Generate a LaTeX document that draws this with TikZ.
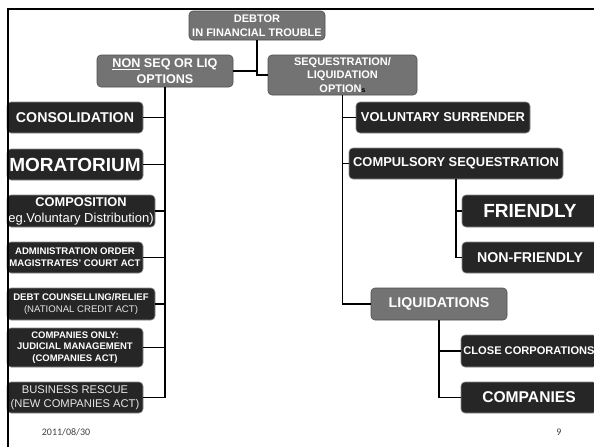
\documentclass[tikz,border=0pt]{standalone}
\usepackage{fontspec}
\setmainfont{Liberation Sans}
\newfontfamily\footfont{Carlito}
\usetikzlibrary{calc}

\definecolor{boxdark}{HTML}{262626}
\definecolor{boxgray}{HTML}{737373}
\definecolor{edgelight}{HTML}{8A8A8A}
\definecolor{edgedark}{HTML}{505050}
\definecolor{softwhite}{HTML}{E6E6E6}
\newcommand{\fsz}[2]{\fontsize{#1}{#2}\selectfont}

\begin{document}
\begin{tikzpicture}[x=1pt,y=-1pt]
  \tikzset{
    dbox/.style={draw=edgelight, fill=boxdark, rounded corners=4pt, text=white, align=center, inner sep=0pt, line width=0.6pt},
    gbox/.style={draw=edgedark, fill=boxgray, rounded corners=4pt, text=white, align=center, inner sep=0pt, line width=0.6pt},
    line/.style={draw, line width=1.8pt},
  }
  \clip (0,0) rectangle (594,447);
  \fill[white] (0,0) rectangle (594,447);

  % top of the tree
  \node [gbox, minimum width=136pt, minimum height=29pt, font=\bfseries\fsz{11}{13.5}] (debtor) at (257,25.5) {DEBTOR\\IN FINANCIAL TROUBLE};
  \node [gbox, minimum width=136pt, minimum height=32pt, font=\bfseries\fsz{12.6}{16}] (nonseq) at (165,71) {\underline{NON} SEQ OR LIQ\\OPTIONS};
  \node [gbox, minimum width=149pt, minimum height=40pt, font=\bfseries\fsz{11}{13.5}] (seqliq) at (342.5,75) {SEQUESTRATION/\\LIQUIDATION\\OPTION{\color{black}\fsz{7}{7}s}};

  % non seq options
  \node [dbox, minimum width=136pt, minimum height=31pt, font=\bfseries\fsz{14.2}{16}] (consol) at (75,117.5) {CONSOLIDATION};
  \node [dbox, minimum width=136pt, minimum height=31pt, font=\bfseries\fsz{19}{21}] (morat) at (75,164.5) {MORATORIUM};
  \node [dbox, minimum width=148pt, minimum height=32pt, font=\bfseries\fsz{12.8}{16}] (compos) at (81,211) {COMPOSITION\\{\mdseries\fsz{13}{16}eg.Voluntary Distribution)}};
  \node [dbox, minimum width=136pt, minimum height=31pt, font=\bfseries\fsz{9.6}{11.7}] (admin) at (75,257.5) {ADMINISTRATION ORDER\\MAGISTRATES' COURT ACT};
  \node [dbox, minimum width=148pt, minimum height=32pt, font=\bfseries\fsz{9.6}{12}] (debtc) at (81,304) {DEBT COUNSELLING/RELIEF\\{\mdseries\color{softwhite}(NATIONAL CREDIT ACT)}};
  \node [dbox, minimum width=136pt, minimum height=39pt, font=\bfseries\fsz{9.5}{11.7}] (judman) at (75,347.5) {COMPANIES ONLY:\\JUDICIAL MANAGEMENT\\(COMPANIES ACT)};
  \node [dbox, minimum width=136pt, minimum height=31pt, text=softwhite, font=\fsz{11.2}{13.5}] (busres) at (75,397.5) {BUSINESS RESCUE\\(NEW COMPANIES ACT)};

  % sequestration / liquidation options
  \node [dbox, minimum width=174pt, minimum height=31pt, font=\bfseries\fsz{12.9}{15}] (volsur) at (443,117.5) {VOLUNTARY SURRENDER};
  \node [dbox, minimum width=214pt, minimum height=31pt, font=\bfseries\fsz{12.9}{15}] (compseq) at (456,163.5) {COMPULSORY SEQUESTRATION};
  \node [dbox, minimum width=136pt, minimum height=32pt, font=\bfseries\fsz{19}{21}] (friend) at (530,211) {FRIENDLY};
  \node [dbox, minimum width=136pt, minimum height=31pt, font=\bfseries\fsz{14.2}{16}] (nonfriend) at (530,257.5) {NON-FRIENDLY};
  \node [gbox, minimum width=136pt, minimum height=32pt, font=\bfseries\fsz{14.2}{16}] (liq) at (439,304) {LIQUIDATIONS};
  \node [dbox, minimum width=136pt, minimum height=32pt, font=\bfseries\fsz{11.1}{13}] (closecc) at (529,351) {CLOSE CORPORATIONS};
  \node [dbox, minimum width=136pt, minimum height=31pt, font=\bfseries\fsz{15.6}{18}] (comp) at (529,397.5) {COMPANIES};

  % connectors
  \path [line] (debtor.south) |- (seqliq.west);
  \path [line] (nonseq.east) -- (nonseq.east -| debtor.south);
  \path [line] (nonseq.south) |- (busres.east);
  \foreach \n in {consol,morat,compos,admin,debtc,judman}
    \path [line] (\n.east) -- (\n.east -| nonseq.south);
  \path [line] (seqliq.south) |- (liq.west);
  \foreach \n in {volsur,compseq}
    \path [line] (\n.west) -- (\n.west -| seqliq.south);
  \path [line] (compseq.south) |- (nonfriend.west);
  \path [line] (friend.west) -- (friend.west -| compseq.south);
  \path [line] (liq.south) |- (comp.west);
  \path [line] (closecc.west) -- (closecc.west -| liq.south);

  % slide frame and footer
  \coordinate (fbot) at (8,447);
  \coordinate (fcorner) at (8,9);
  \coordinate (fright) at (594,9);
  \draw [line width=2pt] (fbot) -- (fcorner) -- (fright);
  \node [text=black!75, font=\footfont\fsz{10}{12}] (date) at (66,432) {2011/08/30};
  \node [text=black!75, font=\footfont\fsz{10}{12}] (page) at (559,432) {9};
\end{tikzpicture}
\end{document}
